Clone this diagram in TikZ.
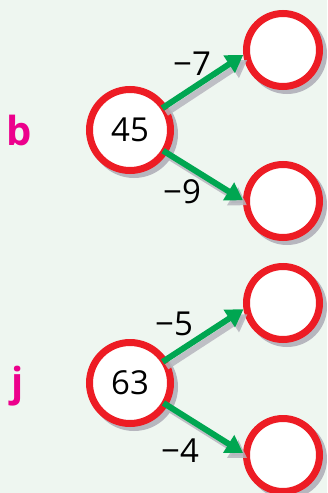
\documentclass[tikz,border=0pt]{standalone}
\usepackage{fontspec}
\setmainfont{Open Sans}
\usetikzlibrary{arrows.meta, shadows, positioning}
\definecolor{cBack}{RGB}{238,246,240}
\definecolor{cRed}{RGB}{237,28,36}
\definecolor{cGreen}{RGB}{0,166,81}
\definecolor{cPink}{RGB}{236,0,140}
\definecolor{cShade}{RGB}{182,182,190}
\tikzset{
	ring/.style     ={circle, draw=cRed, line width=7pt, fill=white, inner sep=0pt,
		drop shadow={shadow xshift=4pt, shadow yshift=-4pt, fill=cShade, draw=cShade, line width=7pt, opacity=1}},
	numring/.style  ={ring, minimum size=81pt, font=\fontsize{33}{39}\selectfont},
	emptyring/.style={ring, minimum size=73pt},
	% subtraction arrows
	subarr/.style   ={-{Triangle[width=20pt,length=17pt]}, line width=6pt, draw=cGreen, shorten <=-5pt},
	subshade/.style ={subarr, draw=cShade, opacity=0.85, transform canvas={xshift=4pt,yshift=-5pt}},
	diff/.style     ={font=\fontsize{33}{39}\selectfont, inner sep=0pt},
	tag/.style      ={font=\fontsize{40}{46}\selectfont\bfseries, text=cPink, inner sep=0pt},
}
\begin{document}
\begin{tikzpicture}[x=1pt, y=-1pt]
	\fill[cBack] (0,0) rectangle (327,493);
	\useasboundingbox (0,0) rectangle (327,493);
	% part b
	\node[tag] (tb) at (19,130) {b};
	\node[numring] (b) at (130,130) {45};
	\node[emptyring] (b1) at (283,50) {};
	\node[emptyring] (b2) at (283,201) {};
	\draw[subshade] (b.34) -- (b1.187);
	\draw[subshade] (b.-32) -- (b2.179);
	\draw[subarr] (b.34) -- (b1.187);
	\draw[subarr] (b.-32) -- (b2.179);
	\node[diff] (db1) at (192,64) {−7};
	\node[diff] (db2) at (182,192) {−9};
	% part j
	\node[tag] (tj) at (18,386) {j};
	\node[numring] (j) at (130,383) {63};
	\node[emptyring] (j1) at (283,303) {};
	\node[emptyring] (j2) at (283,455) {};
	\draw[subshade] (j.33) -- (j1.189);
	\draw[subshade] (j.-31) -- (j2.177);
	\draw[subarr] (j.33) -- (j1.189);
	\draw[subarr] (j.-31) -- (j2.177);
	\node[diff] (dj1) at (174,324) {−5};
	\node[diff] (dj2) at (180,451) {−4};
\end{tikzpicture}
\end{document}
